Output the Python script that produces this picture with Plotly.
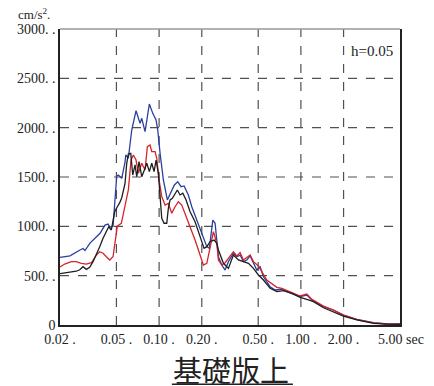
import math
import plotly.graph_objects as go

# response spectra (h=0.05), period in sec, acceleration in cm/s^2
blue_period = [0.02, 0.02353, 0.02768, 0.02907, 0.03002, 0.03256, 0.03832, 0.04155, 0.04364, 0.04508,
               0.04732, 0.0489, 0.05026, 0.05158, 0.05452, 0.0575, 0.05817, 0.06068, 0.06412, 0.06877,
               0.07338, 0.07544, 0.0796, 0.08536, 0.09022, 0.09518, 0.09784, 0.1016, 0.1072, 0.1143,
               0.1208, 0.1281, 0.1354, 0.1428, 0.15, 0.1608, 0.17, 0.1844, 0.2, 0.217,
               0.2262, 0.2392, 0.2482, 0.2523, 0.262, 0.2768, 0.292, 0.3082, 0.3342, 0.3532,
               0.3728, 0.3934, 0.4156, 0.4386, 0.4626, 0.4888, 0.5158, 0.5442, 0.6068, 0.6582,
               0.7338, 0.796, 0.988, 1.1016, 1.195, 1.443, 1.697, 1.996, 2.482, 3.252, 4.042, 5.0]
blue_acc = [686, 700, 760, 775, 755, 830, 930, 1013, 1023, 993,
            1000, 1250, 1510, 1520, 1487, 1650, 1723, 1690, 1976, 2172,
            2044, 2095, 1959, 2240, 2145, 2078, 1976, 1740, 1470, 1267,
            1335, 1419, 1452, 1402, 1409, 1318, 1199, 1064, 946, 794,
            777, 1064, 1031, 929, 692, 608, 557, 642, 727, 692,
            709, 642, 659, 700, 625, 557, 591, 489, 388, 355,
            362, 338, 287, 304, 253, 186, 152, 101, 57, 24, 10, 10]

red_period = [0.02, 0.02159, 0.02403, 0.02607, 0.02827, 0.03066, 0.03327, 0.03609, 0.03812, 0.04023,
              0.04245, 0.04484, 0.04732, 0.04914, 0.05075, 0.05415, 0.0575, 0.06068, 0.0634, 0.06582,
              0.06877, 0.0714, 0.07544, 0.0796, 0.08264, 0.08634, 0.08876, 0.09364, 0.09626, 0.0999,
              0.1044, 0.1102, 0.1162, 0.1228, 0.1296, 0.1367, 0.1445, 0.1524, 0.1654, 0.1793,
              0.1945, 0.2052, 0.217, 0.2288, 0.2416, 0.2552, 0.262, 0.2768, 0.292, 0.3342,
              0.3532, 0.3728, 0.3934, 0.4386, 0.4626, 0.5018, 0.5302, 0.575, 0.6766, 0.7338,
              0.988, 1.1016, 1.195, 1.443, 1.697, 1.996, 2.482, 3.252, 4.042, 5.0]
red_acc = [588, 618, 642, 642, 625, 618, 631, 709, 743, 727,
           692, 659, 692, 861, 1003, 1031, 1199, 1368, 1672, 1723,
           1672, 1537, 1639, 1571, 1807, 1824, 1757, 1757, 1690, 1470,
           1301, 1216, 1233, 1132, 1199, 1250, 1216, 1132, 996, 861,
           709, 608, 625, 794, 946, 828, 659, 608, 631, 743,
           700, 733, 659, 709, 642, 598, 540, 456, 382, 372,
           294, 314, 260, 192, 150, 100, 55, 22, 10, 9]

black_period = [0.02, 0.02278, 0.02607, 0.02754, 0.02907, 0.03066, 0.0324, 0.0342, 0.03609, 0.03812,
                0.04023, 0.04245, 0.04414, 0.04603, 0.04678, 0.04864, 0.05075, 0.05276, 0.05452, 0.0575,
                0.05912, 0.06068, 0.0631, 0.06518, 0.06766, 0.06955, 0.0722, 0.07544, 0.0787, 0.08184,
                0.08536, 0.08876, 0.09214, 0.09518, 0.0988, 0.1016, 0.1044, 0.1084, 0.1132, 0.1162,
                0.1195, 0.124, 0.1296, 0.1345, 0.1405, 0.1469, 0.155, 0.1654, 0.1793, 0.1945,
                0.2076, 0.217, 0.2288, 0.2443, 0.2552, 0.262, 0.2842, 0.3082, 0.3342, 0.3626,
                0.3934, 0.4266, 0.4626, 0.5018, 0.5442, 0.6068, 0.6766, 0.753, 0.8634, 0.988,
                1.1016, 1.2266, 1.443, 1.697, 1.996, 2.482, 3.252, 4.042, 5.0]
black_acc = [520, 530, 545, 560, 591, 564, 585, 642, 709, 794,
             879, 946, 996, 963, 1031, 1148, 1199, 1240, 1290, 1436,
             1639, 1733, 1740, 1520, 1622, 1503, 1655, 1503, 1571, 1639,
             1554, 1639, 1554, 1672, 1537, 1335, 1081, 1031, 1031, 1182,
             1267, 1284, 1335, 1368, 1318, 1335, 1267, 1148, 1047, 895,
             777, 794, 844, 861, 828, 760, 625, 574, 709, 659,
             642, 625, 574, 507, 456, 372, 338, 348, 321, 280,
             260, 236, 175, 135, 91, 51, 17, 8, 7]

x_ticks = [0.02, 0.05, 0.1, 0.2, 0.5, 1.0, 2.0, 5.0]
x_labels = ["0.02 .", "0.05 .", "0.10 .", "0.20 .", "0.50 .", "1.00 .", "2.00 .", "5.00 sec"]
y_ticks = [0, 500, 1000, 1500, 2000, 2500, 3000]
y_labels = ["0", "500. .", "1000. .", "1500. .", "2000. .", "2500. .", "3000. ."]

serif = "Liberation Serif"

fig = go.Figure()
fig.add_trace(go.Scatter(x=blue_period, y=blue_acc, mode="lines",
                         line=dict(color="#2b3f9e", width=1.3)))
fig.add_trace(go.Scatter(x=red_period, y=red_acc, mode="lines",
                         line=dict(color="#d7222a", width=1.3)))
fig.add_trace(go.Scatter(x=black_period, y=black_acc, mode="lines",
                         line=dict(color="#1e1e1e", width=1.3)))

# dashed grid drawn as shapes so the edges stay solid
for t in x_ticks[1:-1]:
    fig.add_shape(type="line", xref="x", yref="paper", x0=t, x1=t, y0=0, y1=1,
                  line=dict(color="#505050", width=1.2, dash="dash"), layer="below")
for v in y_ticks[1:-1]:
    fig.add_shape(type="line", xref="paper", yref="y", x0=0, x1=1, y0=v, y1=v,
                  line=dict(color="#505050", width=1.2, dash="dash"), layer="below")
fig.add_shape(type="line", xref="paper", yref="paper", x0=0, x1=1, y0=1, y1=1,
              line=dict(color="#999999", width=1.3))
# underline of the caption
fig.add_shape(type="line", xref="paper", yref="paper", x0=0.329, x1=0.685, y0=-0.2, y1=-0.2,
              line=dict(color="#222222", width=1.5))

# page body has an 8px margin, so the figure is shifted 8px right/down
fig.update_layout(
    width=434, height=386,
    margin=dict(l=52, r=42, t=21, b=69, autoexpand=False),
    paper_bgcolor="white", plot_bgcolor="white",
    showlegend=False,
    font=dict(family=serif, size=14, color="#222222"),
    xaxis=dict(type="log", range=[math.log10(0.02), math.log10(5.0)],
               tickvals=x_ticks[:-1], ticktext=x_labels[:-1], tickangle=0, automargin=False,
               showgrid=False, zeroline=False, showline=True, linecolor="#222222", linewidth=1.5,
               ticks="", ticklen=0, tickfont=dict(family=serif, size=14, color="#222222")),
    yaxis=dict(range=[0, 3000], tickvals=y_ticks, ticktext=y_labels, automargin=False,
               showgrid=False, zeroline=False, showline=True, mirror=True,
               linecolor="#222222", linewidth=1.5, ticks="", ticklen=0,
               tickfont=dict(family=serif, size=14, color="#222222")),
    annotations=[
        dict(text="cm/s<sup>2</sup>.", xref="paper", yref="paper", x=0, y=1.05,
             xanchor="left", yanchor="middle", xshift=-44, showarrow=False,
             font=dict(family=serif, size=13, color="#222222")),
        dict(text="h=0.05", xref="paper", yref="paper", x=0.985, y=0.925,
             xanchor="right", yanchor="middle", showarrow=False,
             font=dict(family=serif, size=15, color="#222222")),
        # last tick label with the unit, kept inside the window
        dict(text=x_labels[-1], xref="x", yref="paper", x=math.log10(x_ticks[-1]), y=-0.05,
             xanchor="right", yanchor="middle", xshift=26, showarrow=False,
             font=dict(family=serif, size=14, color="#222222")),
        dict(text="基礎版上", xref="paper", yref="paper", x=0.503, y=-0.148,
             xanchor="center", yanchor="middle", showarrow=False,
             font=dict(family="Noto Sans CJK JP", size=29, color="#222222")),
    ],
)

fig.write_html("out.html")
